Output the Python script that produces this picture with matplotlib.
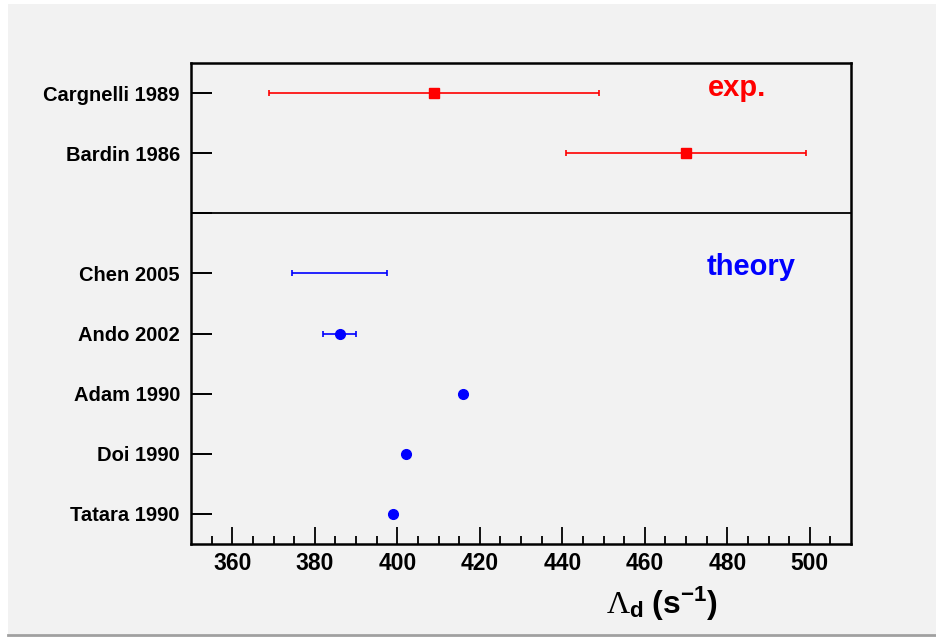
import numpy as np
import matplotlib
matplotlib.use("Agg")
from matplotlib import pyplot as plt
from matplotlib.patches import Rectangle
from matplotlib.lines import Line2D

plt.rcParams['font.family'] = ['Liberation Sans', 'DejaVu Sans']
plt.rcParams['mathtext.fontset'] = 'custom'
plt.rcParams['mathtext.rm'] = 'Liberation Serif'
plt.rcParams['mathtext.it'] = 'Liberation Serif:italic'
plt.rcParams['mathtext.bf'] = 'Liberation Sans:bold'

# experiments (red squares)
exp_labels = ['Cargnelli 1989', 'Bardin 1986']
exp_values = [409, 470]
exp_errors = [40, 29]

# theory (blue circles)
th_labels = ['Chen 2005', 'Ando 2002', 'Adam 1990', 'Doi 1990', 'Tatara 1990']
th_values = [386, 386, 416, 402, 399]
th_errors = [11.6, 4, 0, 0, 0]

bg = '#f2f2f2'
fig = plt.figure(figsize=(9.36, 6.37), dpi=100, facecolor='white')
fig.patches.append(Rectangle((8 / 936, 3 / 637), 928 / 936, 630 / 637,
                             transform=fig.transFigure, facecolor=bg,
                             edgecolor='none', zorder=-10))
fig.lines.append(Line2D([8 / 936, 1], [2.5 / 637, 2.5 / 637],
                        transform=fig.transFigure, color='#a0a0a0', lw=2))

ax = fig.add_axes([191 / 936, 1 - 544 / 637, 660 / 936, 481 / 637])
ax.set_facecolor(bg)

# y positions: top to bottom, one unit apart, separator between groups
n_exp = len(exp_labels)
n_th = len(th_labels)
th_y = np.arange(n_th)[::-1] + 0.5
sep_y = n_th + 0.5
exp_y = sep_y + 1 + np.arange(n_exp)[::-1]

ax.errorbar(exp_values, exp_y, xerr=exp_errors, fmt='s', color='red',
            ms=6.5, lw=1.2, capsize=2, capthick=1.2)

# Chen 2005 has no central marker
ax.errorbar(th_values[0], th_y[0], xerr=th_errors[0], fmt='none', color='blue',
            lw=1.2, capsize=2, capthick=1.2)
ax.errorbar(th_values[1:], th_y[1:], xerr=th_errors[1:], fmt='o', color='blue',
            ms=7, lw=1.2, capsize=2, capthick=1.2)

ax.axhline(sep_y, color='black', lw=1.3)

ax.set_xlim(350, 510)
ax.set_ylim(0, n_exp + n_th + 1)

ax.set_xticks(np.arange(360, 501, 20))
ax.set_xticks(np.arange(355, 510, 5), minor=True)
ax.tick_params(axis='x', which='major', direction='in', length=12, width=1.3,
               labelsize=16.5, pad=6, top=False)
ax.tick_params(axis='x', which='minor', direction='in', length=6, width=1.3, top=False)
for t in ax.get_xticklabels():
    t.set_fontweight('bold')

ax.set_yticks(list(exp_y) + [sep_y] + list(th_y))
ax.set_yticklabels(exp_labels + [''] + th_labels, fontsize=14.5, fontweight='bold')
ax.tick_params(axis='y', direction='in', length=15, width=1.4, pad=8, right=False)

for s in ax.spines.values():
    s.set_linewidth(1.8)

ax.text(482.4, 7.58, 'exp.', color='red', fontsize=21, fontweight='bold',
        ha='center', va='center')
ax.text(485.7, 4.60, 'theory', color='blue', fontsize=21, fontweight='bold',
        ha='center', va='center')

fig.text(662 / 936, 1 - 604 / 637, r'$\Lambda_{\mathbf{d}}\ \mathbf{(s^{-1})}$',
         fontsize=23, ha='center', va='center')

fig.savefig('out.png', dpi=100, facecolor=fig.get_facecolor())
